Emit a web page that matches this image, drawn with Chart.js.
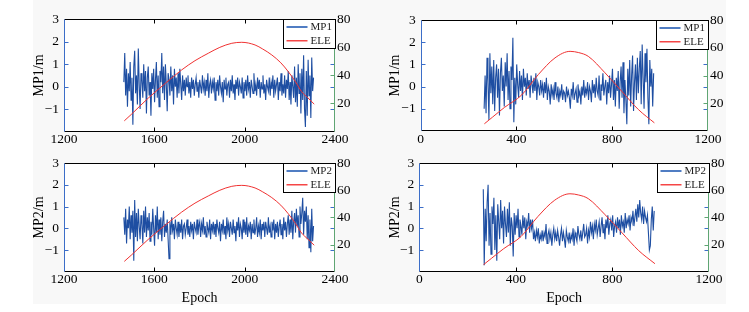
<!DOCTYPE html>
<html><head><meta charset="utf-8">
<script src="https://cdn.jsdelivr.net/npm/chart.js@4.4.0/dist/chart.umd.min.js"></script>
<style>
html,body{margin:0;padding:0;background:#fff;width:749px;height:312px;overflow:hidden}
#bg{position:absolute;left:33px;top:0;width:693px;height:304px;background:#f8f8f8}
canvas{position:absolute}
</style></head><body>
<div id="bg"></div>
<canvas id="c1" width="374" height="150" style="left:0;top:0"></canvas>
<canvas id="c2" width="375" height="150" style="left:374px;top:0"></canvas>
<canvas id="c3" width="374" height="162" style="left:0;top:150px"></canvas>
<canvas id="c4" width="375" height="162" style="left:374px;top:150px"></canvas>
<script>
// ---------- DATA ----------
const epochStartA = 1465, epochStepA = 4;   // left satellite pass
const epochStartB = 265,  epochStepB = 4;   // right satellite pass

const mp1A = [
 0.2, 1.5,-0.4, 0.8,-0.9, 0.6,-0.2, 1.1,-0.6, 0.4,
-1.7, 0.9, 1.6,-0.3, 0.5,-0.8, 1.7, 0.1,-1.0, 0.6,
 0.3,-0.5, 1.0,-0.2, 0.7,-1.2, 0.4, 0.9,-0.4, 0.2,
-1.3, 0.6,-0.1, 0.8,-0.7, 0.3, 1.1,-0.5, 0.5,-0.9,
 0.7, 0.2, 1.5,-0.3, 0.9,-0.6, 1.0, 0.1,-1.1, 0.6,
 0.3,-0.4, 0.9,-0.2, 0.5,-0.8, 0.8, 0.0, 0.4,-0.5,
 0.6,-0.3, 0.8, 0.1,-0.6, 0.5,-0.2, 0.3,-0.4, 0.4,
 0.0, 0.5,-0.3, 0.2,-0.5, 0.4,-0.1, 0.3,-0.4, 0.1,
 0.4,-0.2, 0.2,-0.5, 0.3, 0.0,-0.3, 0.5,-0.1, 0.2,
-0.4, 0.3,-0.2, 0.6,-0.5, 0.1, 0.3,-0.3, 0.2,-0.1,
 0.4,-0.6, 0.2,-0.2, 0.3,-0.4, 0.5, 0.0,-0.3, 0.2,
-0.7, 0.3,-0.1, 0.4,-0.4, 0.1, 0.2,-0.5, 0.3,-0.2,
 0.5,-0.3, 0.1,-0.6, 0.3,-0.1, 0.4,-0.4, 0.2, 0.0,
-0.3, 0.4,-0.5, 0.2,-0.2, 0.3,-0.4, 0.5,-0.1, 0.2,
-0.5, 0.3, 0.0,-0.3, 0.6,-0.2, 0.1,-0.4, 0.4,-0.1,
 0.3,-0.5, 0.2,-0.1, 0.5,-0.3, 0.1,-0.6, 0.3, 0.0,
-0.2, 0.4,-0.4, 0.2,-0.1, 0.5,-0.5, 0.3,-0.2, 0.1,
 0.4,-0.6, 0.2,-0.2, 0.6,-0.4, 0.1,-0.3, 0.5,-0.5,
 0.3,-0.1, 0.7,-0.6, 0.2,-0.8, 0.5, 0.0,-0.5, 0.9,
-0.7, 0.4,-0.9, 1.0,-0.3, 0.6,-1.2, 0.8,-0.6, 1.4,
-1.0,-1.8, 0.7,-1.3, 1.2,-0.4, 0.5,-1.4, 1.3,-0.2,
 0.4];

const mp2A = [
 0.5,-0.3, 0.9,-0.7, 0.4, 0.0, 1.0,-0.5, 0.6,-0.2,
 0.8,-1.5, 1.3,-0.4, 0.7,-0.6, 0.9, 0.1,-0.5, 0.6,
 0.2,-0.7, 0.8,-0.2, 1.0,-0.4, 0.5,-0.1, 0.7,-0.6,
 0.3,-0.3, 0.9, 0.0,-0.8, 0.6,-0.2, 1.0,-0.5, 0.4,
-0.3, 0.5,-0.6, 0.3, 0.8,-0.4, 0.2,-0.2, 0.4,-0.5,
-1.4, 0.3,-0.3, 0.5,-0.1, 0.2,-0.5, 0.4, 0.0,-0.3,
 0.3,-0.4, 0.2,-0.2, 0.4,-0.5, 0.1, 0.2,-0.3, 0.0,
 0.4,-0.3, 0.1,-0.4, 0.3,-0.1, 0.2,-0.5, 0.3, 0.0,
-0.2, 0.4,-0.3, 0.1, 0.3,-0.4, 0.2,-0.1, 0.5,-0.3,
 0.1,-0.4, 0.3, 0.0,-0.2, 0.4,-0.5, 0.2,-0.1, 0.3,
-0.3, 0.2,-0.4, 0.4, 0.0,-0.2, 0.3,-0.6, 0.2,-0.1,
 0.4,-0.3, 0.1,-0.5, 0.5,-0.1, 0.2,-0.4, 0.3, 0.0,
-0.3, 0.4,-0.2, 0.1,-0.6, 0.3,-0.1, 0.5,-0.4, 0.2,
 0.0,-0.5, 0.4,-0.2, 0.3,-0.3, 0.5,-0.4, 0.1,-0.1,
 0.3,-0.5, 0.2,-0.2, 0.4,-0.3, 0.0, 0.5,-0.4, 0.1,
-0.2, 0.4,-0.5, 0.2,-0.1, 0.3,-0.4, 0.3, 0.0,-0.3,
 0.5,-0.2, 0.1,-0.4, 0.3,-0.1, 0.4,-0.5, 0.2,-0.2,
 0.3,-0.4, 0.1, 0.4,-0.3, 0.2,-0.5, 0.5,-0.1, 0.3,
-0.4, 0.2, 0.6,-0.3, 0.4,-0.2, 0.8,-0.5, 0.3, 0.7,
-0.2, 0.9, 0.1, 0.6,-0.4, 1.0, 0.2, 0.7, 1.4,-0.3,
 0.8, 0.3, 1.0,-0.5, 0.6,-0.9, 0.4,-1.1, 0.9,-0.6,
 0.1];

const mp1B = [
-1.0, 0.5,-1.2, 1.3, 0.2,-1.5, 1.5,-0.3, 0.9,-0.8,
 1.2,-1.1, 0.4, 1.0,-0.5, 0.8,-1.3, 0.6, 1.3,-0.2,
 0.5,-0.9, 1.1, 0.0, 1.5,-0.6, 0.7,-1.0, 0.9, 0.3,
 2.2,-1.6, 0.4,-0.8, 1.0, 0.1,-0.5, 0.7,-0.2, 0.5,
-0.6, 0.8, 0.0, 0.4,-0.4, 0.6,-0.1, 0.3,-0.5, 0.5,
 0.1,-0.3, 0.4,-0.2, 0.6,-0.6, 0.2, 0.0,-0.4, 0.3,
-0.2, 0.1,-0.5, 0.2,-0.3, 0.4,-0.6, 0.0,-0.2,-0.8,
 0.1,-0.4,-0.1,-0.6, 0.2,-0.3,-0.5, 0.0,-0.7,-0.2,
-0.4, 0.1,-0.6,-0.2,-0.3,-0.7, 0.0,-0.4,-0.2,-0.5,
-1.0,-0.1,-0.4, 0.2,-0.6,-0.3,-0.1,-0.7, 0.1,-0.4,
-0.2,-0.8, 0.0,-0.4, 0.3,-0.5,-0.1,-0.3, 0.2,-0.6,
 0.0,-0.2,-0.7, 0.3,-0.3, 0.1,-0.5, 0.4,-0.2,-0.4,
 0.5,-0.6, 0.1,-0.2, 0.6,-0.4, 0.0, 0.3,-0.8, 0.2,
-0.3, 0.5,-0.5, 0.1, 0.8,-0.6, 0.3,-0.9, 0.4,-0.2,
 0.7,-1.0, 0.2, 0.9,-0.5, 1.1,-1.2, 0.3,-0.6,-1.7,
 0.8,-0.4, 1.2,-0.9, 0.5, 1.4,-1.1, 0.2, 1.0,-0.6,
 1.3,-0.3, 0.8, 1.6,-0.8, 1.9, 0.4,-1.0, 1.5, 0.2,
 1.7,-0.5,-1.7, 1.2, 0.0, 0.8,-0.9, 0.6];

const mp2B = [
 1.8,-1.7, 0.9,-0.6, 1.2, 2.0,-0.8, 0.7,-1.2, 1.0,
 0.2, 1.4,-1.0, 0.6,-1.5, 1.1, 0.3,-0.5, 1.3, 0.0,
 0.8,-0.7, 1.0, 0.2,-0.4, 0.9,-0.2, 1.2,-0.8, 0.5,
 0.1,-1.3, 0.7,-0.3, 0.6, 0.0, 0.9,-0.4, 0.4, 0.1,
-0.3, 0.6, 0.0, 0.5,-0.5, 0.3, 0.1, 0.7,-0.2, 0.4,
 0.0, 0.4,-0.5,-0.2,-0.6,-0.1,-0.4, 0.0,-0.7,-0.3,
-0.5,-0.1,-0.6,-0.2,-0.4, 0.2,-0.7,-0.3,-0.1,-0.5,
-0.2,-0.8,-0.3, 0.0,-0.5,-0.2,-0.6,-0.1,-0.4,-0.8,
-0.3, 0.0,-0.6,-0.2,-0.5,-0.9,-0.1,-0.4,-0.6,-0.2,
-0.7,-0.3,-0.5, 0.0,-0.8,-0.2,-0.4,-0.6, 0.1,-0.3,
-0.5,-0.1,-0.6,-0.2, 0.2,-0.4,-0.3, 0.0,-0.7,-0.1,
-0.4, 0.3,-0.2, 0.1,-0.5, 0.2,-0.1, 0.4,-0.3, 0.0,
 0.3,-0.4, 0.1, 0.5,-0.2, 0.2,-0.5, 0.4, 0.0, 0.6,
-0.3, 0.2, 0.4,-0.1, 0.6,-0.4, 0.1, 0.3,-0.2, 0.5,
 0.0, 0.4,-0.3, 0.6, 0.1, 0.3,-0.2, 0.7, 0.0, 0.4,
 0.2, 0.6,-0.1, 0.5, 0.3, 0.8, 0.1, 0.5, 0.9, 0.3,
 1.1, 0.5, 1.3, 0.7, 0.4, 1.0, 0.2, 0.8, 0.5, 0.3,
 0.6,-0.2,-1.0,-0.8, 0.4, 1.0,-0.1, 0.8];

const eleEpochsA = [1467,1500,1573,1650,1721,1780,1839,1890,1943,1987,2046,2080,2120,2160,2193,2225,2252,2280,2308];
const eleA       = [ 7.6,12.5,23.8,34.5,43.9,50.5,55.8,60.0,62.9,63.6,61.7,58.8,54.6,49.0,42.7,35.5,28.5,24.0,19.5];
const eleEpochsB = [266, 300, 350, 422, 491, 561, 624, 660, 700, 770, 840, 909, 976];
const eleB       = [5.2,10.0,17.0,26.0,40.6,52.7,57.4,56.5,53.8,41.9,28.6,15.5, 5.9];

const xTicksA = [1200, 1600, 2000, 2400];
const xTicksB = [0, 400, 800, 1200];
const leftTicks = [-1, 0, 1, 2, 3];
const rightTicks = [20, 40, 60, 80];

// ---------- STYLE ----------
const FONT = 'Liberation Serif';
const BLUE = 'rgb(30,78,162)';
const RED = 'rgb(240,50,50)';
const BLUE_AX = 'rgb(60,110,200)';
const GREEN_AX = 'rgb(95,165,115)';
const LEG_COLORS = ['rgb(80,125,195)', 'rgb(245,70,70)'];

const fmt = v => v < 0 ? '\u2212' + (-v) : String(v);

function pairs(start, step, vals) {
  const epochs = vals.map((_, i) => start + i * step);
  return vals.map((v, i) => ({x: epochs[i], y: v}));
}

const framePlugin = {
  id: 'frame',
  beforeDraw(chart) {
    const {ctx, chartArea: a} = chart;
    ctx.save(); ctx.fillStyle = '#fff';
    ctx.fillRect(a.left, a.top, a.right - a.left, a.bottom - a.top);
    ctx.restore();
  },
  afterDraw(chart) {
    const {ctx, chartArea: a, scales: {x, y, y1}} = chart;
    const L = Math.round(a.left) + 0.5, R = Math.round(a.right) - 0.5;
    const T = Math.round(a.top) + 0.5, B = Math.round(a.bottom) - 0.5;
    const tk = 4;
    ctx.save(); ctx.lineWidth = 1;
    ctx.strokeStyle = '#000';
    ctx.beginPath();
    x.ticks.forEach(t => {
      if (t.value === x.min || t.value === x.max) return;
      const p = Math.round(x.getPixelForValue(t.value)) + 0.5;
      ctx.moveTo(p, B); ctx.lineTo(p, B - tk);
      ctx.moveTo(p, T); ctx.lineTo(p, T + tk);
    });
    ctx.moveTo(L, T); ctx.lineTo(R, T);
    ctx.moveTo(L, B); ctx.lineTo(R, B);
    ctx.stroke();
    ctx.strokeStyle = BLUE_AX;
    ctx.beginPath();
    ctx.moveTo(L, T); ctx.lineTo(L, B);
    y.ticks.forEach(t => {
      if (t.value === y.min || t.value === y.max) return;
      const p = Math.round(y.getPixelForValue(t.value)) + 0.5;
      ctx.moveTo(L, p); ctx.lineTo(L + tk, p);
      ctx.moveTo(R, p); ctx.lineTo(R - tk, p);
    });
    ctx.stroke();
    ctx.strokeStyle = GREEN_AX;
    ctx.beginPath();
    ctx.moveTo(R, T); ctx.lineTo(R, B);
    y1.ticks.forEach(t => {
      if (t.value === y1.min || t.value === y1.max) return;
      const p = Math.round(y1.getPixelForValue(t.value)) + 0.5;
      ctx.moveTo(R, p); ctx.lineTo(R - tk, p);
    });
    ctx.stroke();
    // legend
    const bw = 52, bh = 29;
    const bx = Math.round(a.right) - bw + 0.5, by = T;
    ctx.fillStyle = '#fff';
    ctx.fillRect(bx, by, bw, bh);
    ctx.strokeStyle = '#000';
    ctx.lineWidth = 1;
    ctx.strokeRect(bx, by, bw, bh);
    ctx.font = '11px "' + FONT + '"';
    ctx.textBaseline = 'middle';
    ctx.textAlign = 'left';
    const rows = [7.5, 21.5];
    chart.data.datasets.forEach((ds, i) => {
      const ry = Math.round(by + rows[i]);
      ctx.fillStyle = LEG_COLORS[i];
      ctx.fillRect(bx + 3, ry - 1, 21, i === 0 ? 2 : 1.5);
      ctx.fillStyle = '#222';
      ctx.fillText(ds.label, bx + 27, ry + 0.5);
    });
    ctx.restore();
  }
};

function make(id, g, mpVals, mpLabel, start, step, eleX, eleY, xTicks, xMin, xMax, yTitle, showX) {
  const el = document.getElementById(id);
  const W = el.width, H = el.height;
  new Chart(el, {
    type: 'line',
    data: {
      datasets: [
        {label: mpLabel, data: pairs(start, step, mpVals), borderColor: BLUE, borderWidth: 1.1,
         pointRadius: 0, tension: 0, yAxisID: 'y', order: 2},
        {label: 'ELE', data: eleX.map((e, i) => ({x: e, y: eleY[i]})), borderColor: RED, borderWidth: 1,
         pointRadius: 0, cubicInterpolationMode: 'monotone', yAxisID: 'y1', order: 1}
      ]
    },
    options: {
      responsive: false, animation: false, devicePixelRatio: 1,
      layout: {padding: {top: g.top, left: 0, right: 0, bottom: 0}},
      plugins: {legend: {display: false}, tooltip: {enabled: false}},
      scales: {
        x: {
          type: 'linear', min: xMin, max: xMax,
          afterBuildTicks: s => { s.ticks = xTicks.map(v => ({value: v})); },
          afterFit: s => { s.height = H - g.bottom; },
          grid: {display: false, drawTicks: false}, border: {display: false},
          ticks: {padding: 0, color: '#000', font: {family: FONT, size: 13.5}, callback: v => fmt(v), maxRotation: 0, autoSkip: false},
          title: {display: showX, text: 'Epoch', color: '#000', font: {family: FONT, size: 14}, padding: {top: 0, bottom: 5.5}}
        },
        y: {
          type: 'linear', position: 'left', min: -2, max: 3,
          afterBuildTicks: s => { s.ticks = leftTicks.map(v => ({value: v})); },
          afterFit: s => { s.width = g.left; },
          grid: {display: false, drawTicks: false}, border: {display: false},
          ticks: {padding: 5, color: '#000', font: {family: FONT, size: 13.5}, callback: v => fmt(v)},
          title: {display: true, text: yTitle, color: '#000', font: {family: FONT, size: 14}, padding: {top: g.yt, bottom: 0}}
        },
        y1: {
          type: 'linear', position: 'right', min: 0, max: 80,
          afterBuildTicks: s => { s.ticks = rightTicks.map(v => ({value: v})); },
          afterFit: s => { s.width = W - g.right; },
          grid: {display: false, drawTicks: false}, border: {display: false},
          ticks: {padding: 2, color: '#000', font: {family: FONT, size: 13.5}, callback: v => fmt(v)}
        }
      }
    },
    plugins: [framePlugin]
  });
}

make('c1', {left: 64, right: 335, top: 19.3, bottom: 131.5, yt: 30.5}, mp1A, 'MP1', epochStartA, epochStepA, eleEpochsA, eleA, xTicksA, 1200, 2400, 'MP1/m', false);
make('c2', {left: 46.7, right: 334, top: 20, bottom: 131, yt: 12.5}, mp1B, 'MP1', epochStartB, epochStepB, eleEpochsB, eleB, xTicksB, 0, 1200, 'MP1/m', false);
make('c3', {left: 64, right: 335, top: 7.3, bottom: 121.7, yt: 30.5}, mp2A, 'MP2', epochStartA, epochStepA, eleEpochsA, eleA, xTicksA, 1200, 2400, 'MP2/m', true);
make('c4', {left: 45.3, right: 335, top: 5.7, bottom: 121.7, yt: 12.5}, mp2B, 'MP2', epochStartB, epochStepB, eleEpochsB, eleB, xTicksB, 0, 1200, 'MP2/m', true);
</script>
</body></html>
